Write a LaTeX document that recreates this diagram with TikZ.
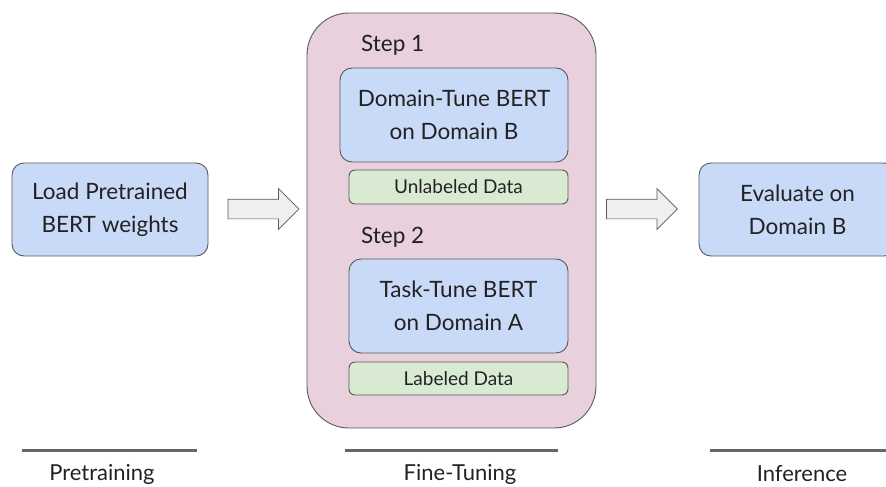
\documentclass[tikz,border=0pt]{standalone}
\usepackage{fontspec}
\setmainfont{Lato}
\usepackage{tikz}
\usetikzlibrary{positioning, shapes.arrows}

\definecolor{boxblue}{HTML}{C9DAF8}
\definecolor{boxpink}{HTML}{E8D1DD}
\definecolor{boxgreen}{HTML}{D9EAD3}
\definecolor{edgegray}{HTML}{595959}
\definecolor{arrowfill}{HTML}{EFEFEF}
\definecolor{linegray}{HTML}{666666}
\definecolor{textgray}{HTML}{222222}

\begin{document}
\begin{tikzpicture}[x=1pt, y=-1pt, % pixel units, y downwards
    every node/.style={text=textgray, inner sep=0pt},
    modelbox/.style={draw=edgegray, line width=0.9pt, fill=boxblue, rounded corners=12pt,
        align=center, font=\fontsize{22.5}{33}\selectfont},
    databox/.style={draw=edgegray, line width=0.9pt, fill=boxgreen, rounded corners=6pt,
        font=\fontsize{19}{22}\selectfont},
    steplabel/.style={anchor=west, font=\fontsize{22.5}{26}\selectfont},
    stagelabel/.style={font=\fontsize{22}{26}\selectfont},
    stageline/.style={draw=linegray, line width=3pt},
    blockarrow/.style={single arrow, draw=edgegray, line width=0.7pt, fill=arrowfill,
        inner xsep=0pt, inner ysep=9.5pt, minimum height=71pt,
        single arrow head extend=10.5pt, single arrow tip angle=90}
]
    % 0. Canvas
    \useasboundingbox[fill=white] (0,0) rectangle (886,487);

    % 1. Pretraining
    \node[modelbox, minimum width=196pt, minimum height=93pt] (load) at (110,209.5)
        {Load Pretrained\\BERT weights};

    % 2. Fine-tuning container with its two steps
    \node[draw=edgegray, line width=0.9pt, fill=boxpink, rounded corners=42pt,
        minimum width=289pt, minimum height=415pt] (finetune) at (451.5,220.5) {};

    \node[steplabel] (step1) at (361,45) {Step 1};
    \node[modelbox, minimum width=228pt, minimum height=94pt] (domtune) at (454,115)
        {Domain-Tune BERT\\on Domain B};
    \node[databox, minimum width=219pt, minimum height=34pt] (unlab) at (458.5,187)
        {Unlabeled Data};

    \node[steplabel] (step2) at (361,237) {Step 2};
    \node[modelbox, minimum width=219pt, minimum height=94pt] (tasktune) at (458.5,306)
        {Task-Tune BERT\\on Domain A};
    \node[databox, minimum width=219pt, minimum height=33pt] (lab) at (458.5,378.5)
        {Labeled Data};

    % 3. Inference
    \node[modelbox, minimum width=197pt, minimum height=93pt] (eval) at (797.5,209.5)
        {Evaluate on\\Domain B};

    % 4. Block arrows between the stages
    \node[blockarrow] (arrow1) at (258.5,209) {};
    \node[blockarrow] (arrow2) at (637,209) {};

    % 5. Stage captions
    \coordinate (pre-l) at (22,450);   \coordinate (pre-r) at (197,450);
    \coordinate (fine-l) at (345,450); \coordinate (fine-r) at (558,450);
    \coordinate (inf-l) at (710,450);  \coordinate (inf-r) at (886,450);
    \draw[stageline] (pre-l) -- (pre-r);
    \draw[stageline] (fine-l) -- (fine-r);
    \draw[stageline] (inf-l) -- (inf-r);
    \node[stagelabel] (pretrain) at (102,474) {Pretraining};
    \node[stagelabel] (finelabel) at (460,474) {Fine-Tuning};
    \node[stagelabel] (inflabel) at (802,474) {Inference};
\end{tikzpicture}
\end{document}
